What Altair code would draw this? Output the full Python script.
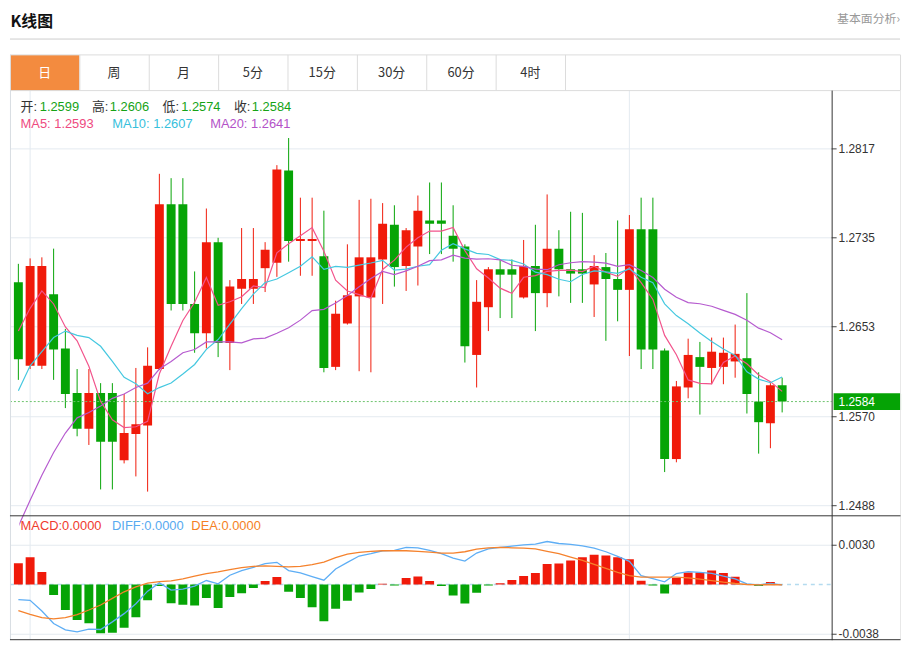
import altair as alt
import pandas as pd

# ---------------- data ----------------
opens = [1.2694, 1.2617, 1.2617, 1.2683, 1.2633, 1.2592, 1.2559, 1.2592, 1.2592, 1.2530,
         1.2554, 1.2562, 1.2614, 1.2766, 1.2766, 1.2674, 1.2647, 1.2731, 1.2638, 1.2688,
         1.2688, 1.2707, 1.2712, 1.2797, 1.2732, 1.2732, 1.2718, 1.2616, 1.2656, 1.2681,
         1.2680, 1.2715, 1.2747, 1.2709, 1.2727, 1.2751, 1.2751, 1.2737, 1.2727, 1.2627,
         1.2671, 1.2706, 1.2706, 1.2680, 1.2709, 1.2684, 1.2725, 1.2706, 1.2706, 1.2692,
         1.2708, 1.2697, 1.2687, 1.2743, 1.2743, 1.2631, 1.2531, 1.2597, 1.2625, 1.2615,
         1.2616, 1.2621, 1.2624, 1.2584, 1.2564, 1.2599]
highs = [1.2711, 1.2716, 1.2717, 1.2725, 1.2651, 1.2614, 1.2614, 1.2601, 1.2601, 1.2591,
         1.2615, 1.2634, 1.2794, 1.2790, 1.2790, 1.2704, 1.2762, 1.2735, 1.2696, 1.2744,
         1.2744, 1.2731, 1.2802, 1.2827, 1.2772, 1.2772, 1.2760, 1.2677, 1.2729, 1.2770,
         1.2771, 1.2767, 1.2765, 1.2744, 1.2774, 1.2786, 1.2786, 1.2765, 1.2729, 1.2696,
         1.2708, 1.2715, 1.2715, 1.2733, 1.2747, 1.2775, 1.2742, 1.2759, 1.2758, 1.2719,
         1.2721, 1.2751, 1.2756, 1.2772, 1.2772, 1.2633, 1.2603, 1.2642, 1.2639, 1.2643,
         1.2643, 1.2655, 1.2684, 1.2611, 1.2601, 1.2606]
lows = [1.2604, 1.2614, 1.2614, 1.2604, 1.2578, 1.2552, 1.2544, 1.2503, 1.2503, 1.2527,
        1.2515, 1.2501, 1.2613, 1.2668, 1.2668, 1.2629, 1.2633, 1.2625, 1.2613, 1.2674,
        1.2674, 1.2685, 1.2699, 1.2713, 1.2700, 1.2700, 1.2611, 1.2613, 1.2655, 1.2612,
        1.2611, 1.2674, 1.2690, 1.2686, 1.2691, 1.2720, 1.2720, 1.2713, 1.2620, 1.2597,
        1.2649, 1.2661, 1.2661, 1.2679, 1.2649, 1.2671, 1.2681, 1.2675, 1.2675, 1.2662,
        1.2640, 1.2658, 1.2626, 1.2614, 1.2614, 1.2519, 1.2528, 1.2587, 1.2572, 1.2600,
        1.2600, 1.2606, 1.2573, 1.2536, 1.2541, 1.2574]
closes = [1.2623, 1.2709, 1.2709, 1.2632, 1.2591, 1.2559, 1.2592, 1.2547, 1.2547, 1.2555,
          1.2563, 1.2617, 1.2766, 1.2674, 1.2674, 1.2647, 1.2731, 1.2638, 1.2690, 1.2697,
          1.2697, 1.2724, 1.2798, 1.2732, 1.2734, 1.2734, 1.2615, 1.2665, 1.2682, 1.2717,
          1.2717, 1.2748, 1.2708, 1.2742, 1.2760, 1.2748, 1.2748, 1.2725, 1.2635, 1.2676,
          1.2706, 1.2701, 1.2701, 1.2709, 1.2684, 1.2725, 1.2706, 1.2702, 1.2702, 1.2709,
          1.2697, 1.2687, 1.2743, 1.2632, 1.2632, 1.2531, 1.2598, 1.2627, 1.2616, 1.2630,
          1.2629, 1.2628, 1.2591, 1.2565, 1.2599, 1.2584]
ma5 = [1.2649, 1.2670, 1.2686, 1.2674, 1.26528, 1.2640, 1.26166, 1.25842, 1.25672, 1.2560,
       1.25608, 1.25658, 1.26096, 1.2635, 1.26588, 1.26756, 1.26984, 1.26728, 1.2676, 1.26806,
       1.26906, 1.26892, 1.27212, 1.27296, 1.2737, 1.27444, 1.27226, 1.2696, 1.2686, 1.26826,
       1.26792, 1.27058, 1.27144, 1.27264, 1.2735, 1.27412, 1.27412, 1.27446, 1.27232, 1.27064,
       1.2698, 1.26886, 1.26838, 1.26986, 1.27002, 1.2704, 1.2705, 1.27052, 1.27038, 1.27088,
       1.27032, 1.26994, 1.27076, 1.26936, 1.26782, 1.2645, 1.26272, 1.2604, 1.26008, 1.26004,
       1.2620, 1.2626, 1.26188, 1.26086, 1.26024, 1.25934]
ma10 = [1.2594, 1.2617, 1.2630, 1.2643, 1.2649, 1.2645, 1.2643, 1.2635, 1.2621, 1.26064,
        1.26004, 1.25912, 1.25969, 1.26011, 1.26094, 1.26182, 1.26321, 1.26412, 1.26555, 1.26697,
        1.26831, 1.26938, 1.2697, 1.27028, 1.27088, 1.27175, 1.27059, 1.27086, 1.27078, 1.27098,
        1.27118, 1.27142, 1.27052, 1.27062, 1.27088, 1.27102, 1.27235, 1.27295, 1.27248, 1.27207,
        1.27196, 1.27149, 1.27142, 1.27109, 1.27033, 1.2701, 1.26968, 1.26945, 1.27012, 1.27045,
        1.27036, 1.27022, 1.27064, 1.26987, 1.26935, 1.26741, 1.26633, 1.26558, 1.26472, 1.26393,
        1.26325, 1.26266, 1.26114, 1.26047, 1.26014, 1.26067]
ma20 = [1.2469, 1.2493, 1.2516, 1.2537, 1.2555, 1.2569, 1.2574, 1.2580, 1.2587, 1.2591,
        1.2597, 1.2601, 1.2614, 1.2621, 1.2629, 1.2632, 1.2639, 1.2639, 1.2639, 1.26381,
        1.26418, 1.26425, 1.2647, 1.2652, 1.26591, 1.26679, 1.2669, 1.26749, 1.26817, 1.26898,
        1.26975, 1.2704, 1.27011, 1.27045, 1.27088, 1.27139, 1.27147, 1.2719, 1.27163, 1.27153,
        1.27157, 1.27146, 1.27097, 1.27086, 1.27061, 1.27056, 1.27102, 1.2712, 1.2713, 1.27126,
        1.27116, 1.27086, 1.27103, 1.27048, 1.26984, 1.26876, 1.26801, 1.26752, 1.26742, 1.26719,
        1.26681, 1.26644, 1.26589, 1.26517, 1.26475, 1.2641]
macd_hist = [0.00162, 0.00209, 0.00096, -0.00081, -0.00195, -0.00272, -0.00296, -0.00373, -0.00369, -0.00331,
             -0.00250, -0.00120, -0.00011, -0.00144, -0.00155, -0.00160, -0.00104, -0.00180, -0.00096, -0.00066,
             -0.00026, 0.00027, 0.00057, -0.00056, -0.00103, -0.00174, -0.00280, -0.00185, -0.00124, -0.00062,
             -0.00035, 0.00005, -0.00007, 0.00050, 0.00062, 0.00027, -0.00012, -0.00084, -0.00146, -0.00063,
             -0.00008, 0.00010, 0.00034, 0.00065, 0.00087, 0.00156, 0.00160, 0.00183, 0.00209, 0.00227,
             0.00222, 0.00209, 0.00193, 0.00029, -0.00008, -0.00068, 0.00050, 0.00092, 0.00092, 0.00107,
             0.00087, 0.00060, -0.00004, -0.00012, 0.00019, 0.00000]
diff_vals = [-0.001163, -0.001213, -0.002022, -0.002983, -0.003463, -0.003615, -0.003413, -0.003438, -0.002856, -0.002224,
             -0.001466, -0.000506, 0.000126, -0.000430, -0.000354, -0.000126, 0.000303, 0.000051, 0.000708, 0.001062,
             0.001314, 0.001593, 0.001694, 0.001062, 0.000885, 0.000607, 0.000329, 0.001188, 0.001694, 0.002174,
             0.002351, 0.002578, 0.002604, 0.002831, 0.002806, 0.002604, 0.002351, 0.002022, 0.001795, 0.002401,
             0.002730, 0.002831, 0.002932, 0.003033, 0.003084, 0.003286, 0.003134, 0.003059, 0.002958, 0.002781,
             0.002503, 0.002149, 0.001769, 0.000683, 0.000455, 0.000202, 0.000834, 0.000986, 0.000935, 0.000859,
             0.000632, 0.000430, 0.000051, -0.000025, 0.000076, -0.000025]
dea_vals = [-0.001997, -0.002275, -0.002528, -0.002629, -0.002528, -0.002300, -0.001946, -0.001567, -0.001062, -0.000556,
            -0.000177, 0.000101, 0.000228, 0.000278, 0.000430, 0.000632, 0.000834, 0.000961, 0.001138, 0.001289,
            0.001390, 0.001416, 0.001378, 0.001340, 0.001390, 0.001517, 0.001719, 0.002048, 0.002326, 0.002452,
            0.002528, 0.002578, 0.002578, 0.002578, 0.002528, 0.002477, 0.002401, 0.002401, 0.002503, 0.002705,
            0.002806, 0.002831, 0.002806, 0.002781, 0.002718, 0.002528, 0.002351, 0.002098, 0.001845, 0.001542,
            0.001239, 0.000935, 0.000683, 0.000556, 0.000556, 0.000556, 0.000556, 0.000506, 0.000404, 0.000303,
            0.000177, 0.000076, 0.000000, -0.000025, 0.000000, -0.000025]

price_ticks = [1.2817, 1.2735, 1.2653, 1.2570, 1.2488]
macd_ticks = [0.0030, -0.0038]
tabs = ["日", "周", "月", "5分", "15分", "30分", "60分", "4时"]
grid_days = [2, 53]
macd_legend = ["MACD:0.0000", "DIFF:0.0000", "DEA:0.0000"]

# ---------------- styles ----------------
RED = "#f01a0a"
GREEN = "#06a406"
MA5C, MA10C, MA20C = "#f2548c", "#45c8e0", "#b65bcf"
MA5T, MA10T, MA20T = "#ee4a80", "#36c0dc", "#b352c8"
DIFFC, DEAC = "#5eaef5", "#f5822d"
GRID = "#e4eaf0"
TXT = "#333333"
VALG = "#16a316"
NUMFONT = "Liberation Sans, Arial, Noto Sans CJK SC, sans-serif"
CJKFONT = "Noto Sans CJK SC, sans-serif"

W = 829
H = 635
X0 = 1 - 3.5 / 12
x_scale = alt.Scale(domain=[X0, X0 + W / 12], nice=False, zero=False)
price_scale = alt.Scale(domain=[1.2488, 1.2817], range=[499.3, 139.3], nice=False, zero=False)
macd_scale = alt.Scale(domain=[-0.0038, 0.0030], range=[629.0, 539.2], nice=False, zero=False)

n = len(closes)
df = pd.DataFrame({
    "idx": list(range(1, n + 1)),
    "open": opens, "high": highs, "low": lows, "close": closes,
    "ma5": ma5, "ma10": ma10, "ma20": ma20,
    "hist": macd_hist, "diff": diff_vals, "dea": dea_vals,
})
one = pd.DataFrame({"last": [closes[-1]], "zero": [0.0]})
ptick_df = pd.DataFrame({"v": price_ticks, "lab": [f"{v:.4f}" for v in price_ticks]})
mtick_df = pd.DataFrame({"v": macd_ticks, "lab": [f"{v:.4f}" for v in macd_ticks]})

X = alt.X("idx:Q", scale=x_scale, axis=None)
candle_color = alt.condition("datum.close >= datum.open", alt.value(RED), alt.value(GREEN))
base = alt.Chart(df)


def Yp(field):
    return alt.Y(f"{field}:Q", scale=price_scale, axis=None)


def Ym(field):
    return alt.Y(f"{field}:Q", scale=macd_scale, axis=None)


def axis_layers(tdf, Yf):
    g = alt.Chart(tdf).mark_rule(color=GRID, strokeWidth=1).encode(
        x=alt.value(0), x2=alt.value(W), y=Yf("v"))
    t = alt.Chart(tdf).mark_rule(color="#444444", strokeWidth=1).encode(
        x=alt.value(W), x2=alt.value(W + 5), y=Yf("v"))
    lab = alt.Chart(tdf).mark_text(align="left", baseline="middle", color=TXT,
                                   fontSize=12, font=NUMFONT).encode(
        x=alt.value(W + 7), y=Yf("v"), text="lab:N")
    return g, t, lab


pg, pt, plab = axis_layers(ptick_df, Yp)
mg, mt, mlab = axis_layers(mtick_df, Ym)

wicks = base.mark_rule(strokeWidth=1).encode(x=X, y=Yp("low"), y2="high:Q", color=candle_color)
bodies = base.mark_bar(size=9, orient="vertical", clip=True).encode(
    x=X, y=Yp("open"), y2="close:Q", color=candle_color)


def ma_line(field, color):
    return base.mark_line(strokeWidth=1.2, color=color).encode(x=X, y=Yp(field))


pline = alt.Chart(one).mark_rule(color="#6cc36c", strokeDash=[2, 2], strokeWidth=1).encode(
    x=alt.value(0), x2=alt.value(W), y=Yp("last"))
pbox = alt.Chart(one).mark_point(shape="M-1,-0.25L1,-0.25L1,0.25L-1,0.25Z", size=68 * 68,
                                 filled=True, color="#05a305", opacity=1, strokeWidth=0).encode(
    x=alt.value(865), y=Yp("last"))
ptext = alt.Chart(one).mark_text(align="left", baseline="middle", color="white",
                                 fontSize=12, font=NUMFONT).encode(
    x=alt.value(W + 7), y=Yp("last"), text=alt.Text("last:Q", format=".4f"))

price = alt.layer(pg, wicks, bodies, ma_line("ma5", MA5C), ma_line("ma10", MA10C),
                  ma_line("ma20", MA20C), pline, pt, plab, pbox, ptext)

zero_rule = alt.Chart(one).mark_rule(color="#b4dbef", strokeDash=[4, 4], strokeWidth=1.5).encode(
    x=alt.value(0), x2=alt.value(W), y=Ym("zero"))
hist = base.mark_bar(size=9, orient="vertical", clip=True).encode(
    x=X, y=Ym("hist"), y2=alt.Y2Datum(0),
    color=alt.condition("datum.hist >= 0", alt.value(RED), alt.value(GREEN)))
diff_l = base.mark_line(strokeWidth=1.3, color=DIFFC).encode(x=X, y=Ym("diff"))
dea_l = base.mark_line(strokeWidth=1.3, color=DEAC).encode(x=X, y=Ym("dea"))
macd = alt.layer(mg, zero_rule, hist, diff_l, dea_l, mt, mlab)

vgrid = alt.Chart(pd.DataFrame({"d": grid_days})).mark_rule(color=GRID, strokeWidth=1).encode(
    x=alt.X("d:Q", scale=x_scale, axis=None), y=alt.value(80), y2=alt.value(634))


# ---------------- decoration helpers ----------------
def txt(s, x, y, color, size=13, font=NUMFONT, weight="normal", align="left"):
    return alt.Chart(one).mark_text(text=s, align=align, baseline="middle", color=color,
                                    fontSize=size, font=font, fontWeight=weight).encode(
        x=alt.value(x), y=alt.value(y))


def hline(x1, x2, y, color, w=1):
    return alt.Chart(one).mark_rule(color=color, strokeWidth=w).encode(
        x=alt.value(x1), x2=alt.value(x2), y=alt.value(y))


def vline(x, y1, y2, color, w=1):
    return alt.Chart(one).mark_rule(color=color, strokeWidth=w).encode(
        x=alt.value(x), y=alt.value(y1), y2=alt.value(y2))


def box(x1, x2, y1, y2, color):
    return alt.Chart(one).mark_rect(color=color).encode(
        x=alt.value(x1), x2=alt.value(x2), y=alt.value(y1), y2=alt.value(y2))


deco = []
deco.append(txt("K线图", 0.5, 11, "#111111", size=16, font=CJKFONT, weight="bold"))
deco.append(txt("基本面分析›", 898, 8.5, "#999999", size=12, font=CJKFONT, align="right"))
deco.append(hline(0, 898, 28.5, "#cccccc"))
# tabs
deco.append(box(0.5, 70, 44.5, 80.5, "#f38b3f"))
deco.append(hline(0, 898.5, 44.5, "#dcdcdc"))
for i in range(len(tabs) + 1):
    deco.append(vline(70 * i + 0.5, 44.5, 80.5, "#dcdcdc"))
deco.append(vline(898.5, 44.5, 80.5, "#dcdcdc"))
for i, t in enumerate(tabs):
    deco.append(txt(t, 35 + 70 * i, 62.5, "white" if i == 0 else TXT, size=13,
                    font=CJKFONT, align="center"))
deco.append(hline(0, 898.5, 80.5, "#dcdcdc"))
# mask where MA20 leaves the price panel
deco.append(box(1, 9.5, 510, 523, "white"))
# frame
deco.append(vline(0.5, 80.5, 634.5, "#d8dde3"))
deco.append(vline(898.5, 80.5, 634.5, "#e8e8e8"))
deco.append(vline(829.5, 80.5, 635, "#333333"))
deco.append(hline(0, 898.5, 509.5, "#333333"))
deco.append(hline(0, 898.5, 634.5, "#333333"))
# OHLC legend
row1 = [("开:", opens[-1], 10.7, 30), ("高:", highs[-1], 82.7, 100.7),
        ("低:", lows[-1], 154, 172.7), ("收:", closes[-1], 226, 244)]
for lab, val, xl, xv in row1:
    deco.append(txt(lab, xl, 97, TXT))
    deco.append(txt(f"{val:.4f}", xv, 97, VALG))
deco.append(txt(f"MA5: {ma5[-1]:.4f}", 10.7, 114.7, MA5T))
deco.append(txt(f"MA10: {ma10[-1]:.4f}", 103.3, 114.7, MA10T))
deco.append(txt(f"MA20: {ma20[-1]:.4f}", 202, 114.7, MA20T))
deco.append(txt(macd_legend[0], 10.7, 520.3, "#f03a2e"))
deco.append(txt(macd_legend[1], 103, 520.3, "#57aaf0"))
deco.append(txt(macd_legend[2], 183, 520.3, "#f57f24"))

chart = alt.layer(vgrid, price, macd, *deco).resolve_scale(y="independent").properties(
    width=W, height=H,
    padding={"left": 2, "top": 0, "right": 74, "bottom": 0},
    autosize=alt.AutoSizeParams(type="none"),
    background="white",
).configure_view(strokeWidth=0)

chart.save("out.html", embed_options={"renderer": "svg", "actions": False})
